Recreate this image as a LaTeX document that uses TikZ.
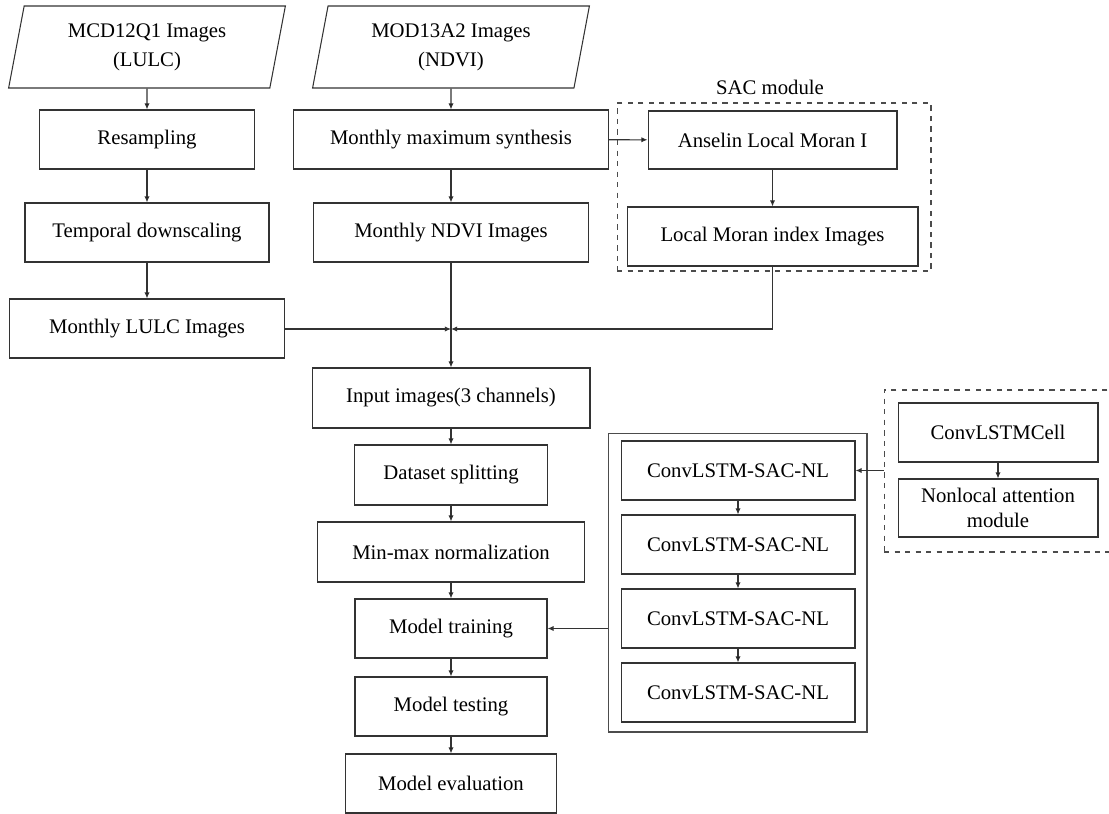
\documentclass[tikz,border=0pt]{standalone}
\usepackage{fontspec}
\setmainfont{Liberation Serif}
\usetikzlibrary{shapes.geometric,arrows.meta}

\begin{document}
\begin{tikzpicture}[x=0.02cm, y=-0.02cm,
  font=\fontsize{11.8}{14.5}\selectfont,
  blk/.style={shape=rectangle, draw=black!80, line width=0.6pt, inner sep=0pt, minimum height=1.18cm, align=center},
  inbox/.style={shape=trapezium, trapezium left angle=78, trapezium right angle=102, trapezium stretches=true, draw=black!80, line width=0.6pt, inner sep=0pt, minimum width=5.54cm, minimum height=1.64cm, align=center, font=\fontsize{11.8}{16.5}\selectfont},
  grp/.style={shape=rectangle, draw=black!70, line width=0.6pt, inner sep=0pt},
  flow/.style={-{Latex[length=3.5pt,width=3pt]}, draw=black!80, line width=0.6pt}]
\useasboundingbox (0,0) rectangle (1109,814);
% group frames
\node[grp, dashed, minimum width=6.28cm, minimum height=3.36cm] (sac) at (774, 187) {};
\node at (770, 87) {SAC module};
\node[grp, minimum width=5.18cm, minimum height=5.98cm] (stack) at (737.5, 582.5) {};
\node[grp, dashed, minimum width=4.62cm, minimum height=3.24cm] (cellbox) at (999.5, 471) {};
% inputs
\node[inbox] (mcd) at (147, 47) {MCD12Q1 Images\\(LULC)};
\node[inbox] (mod) at (451, 47) {MOD13A2 Images\\(NDVI)};
% left branch
\node[blk, minimum width=4.3cm] (res) at (147, 139.5) {Resampling};
\node[blk, minimum width=4.88cm] (tds) at (147, 232.5) {Temporal downscaling};
\node[blk, minimum width=5.5cm] (lulc) at (147, 328.5) {Monthly LULC Images};
% middle branch
\node[blk, minimum width=6.3cm] (mms) at (451, 139.5) {Monthly maximum synthesis};
\node[blk, minimum width=5.5cm] (ndvi) at (451, 232.5) {Monthly NDVI Images};
\node[blk, minimum width=4.98cm, minimum height=1.16cm] (alm) at (772.5, 140) {Anselin Local Moran I};
\node[blk, minimum width=5.82cm] (lmi) at (772.5, 236.5) {Local Moran index Images};
% main chain
\node[blk, minimum width=5.56cm, minimum height=1.2cm] (inp) at (451, 398) {Input images(3 channels)};
\node[blk, minimum width=3.86cm, minimum height=1.2cm] (ds) at (451, 475) {Dataset splitting};
\node[blk, minimum width=5.34cm, minimum height=1.2cm] (mm) at (451, 552) {Min-max normalization};
\node[blk, minimum width=3.84cm] (mt) at (451, 628.5) {Model training};
\node[blk, minimum width=3.84cm] (mte) at (451, 706.5) {Model testing};
\node[blk, minimum width=4.22cm] (me) at (451, 783.5) {Model evaluation};
% model stack
\node[blk, minimum width=4.68cm] (c1) at (738, 470.5) {ConvLSTM-SAC-NL};
\node[blk, minimum width=4.68cm] (c2) at (738, 544.5) {ConvLSTM-SAC-NL};
\node[blk, minimum width=4.68cm] (c3) at (738, 618.5) {ConvLSTM-SAC-NL};
\node[blk, minimum width=4.68cm] (c4) at (738, 692.5) {ConvLSTM-SAC-NL};
\node[blk, minimum width=4cm] (cell) at (998, 432.5) {ConvLSTMCell};
\node[blk, minimum width=4cm, minimum height=1.16cm, font=\fontsize{11.8}{14.2}\selectfont] (nl) at (998, 508) {Nonlocal attention\\module};
\coordinate (jn) at (451, 329);
% connectors
\path [flow] (mcd) edge (res);
\path [flow] (res) edge (tds);
\path [flow] (tds) edge (lulc);
\path [flow] (mod) edge (mms);
\path [flow] (mms) edge (ndvi);
\path [flow] (mms) edge (alm);
\path [flow] (alm) edge (lmi);
\path [flow] (ndvi) edge (inp);
\draw [flow] (lulc.east |- jn) -- (jn);
\draw [flow] (lmi.south) |- (jn);
\path [flow] (inp) edge (ds);
\path [flow] (ds) edge (mm);
\path [flow] (mm) edge (mt);
\path [flow] (mt) edge (mte);
\path [flow] (mte) edge (me);
\path [flow] (c1) edge (c2);
\path [flow] (c2) edge (c3);
\path [flow] (c3) edge (c4);
\path [flow] (cell) edge (nl);
\draw [flow] (cellbox.west |- c1) -- (c1.east);
\draw [flow] (stack.west |- mt) -- (mt.east);
\end{tikzpicture}
\end{document}
